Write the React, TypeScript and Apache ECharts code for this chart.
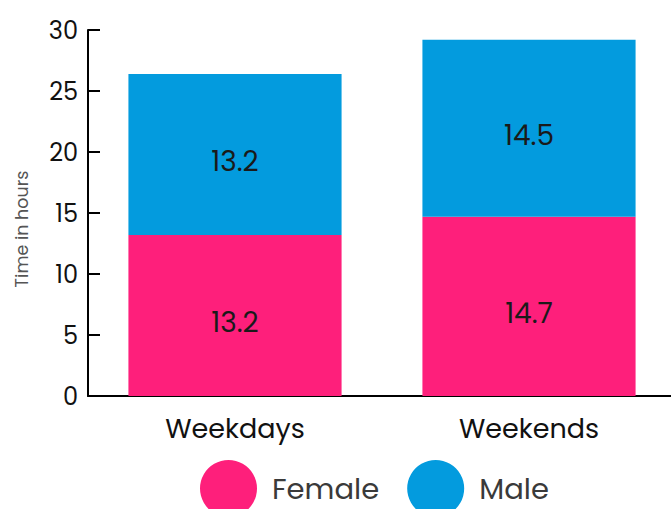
import React, { useEffect, useRef } from "react";
import * as echarts from "echarts";

const categories = ["Weekdays", "Weekends"];
const femaleValues = [13.2, 14.7];
const maleValues = [13.2, 14.5];
const yTicks = { min: 0, max: 30, interval: 5 };
const yAxisTitle = "Time in hours";

const FONT = "Poppins, 'Open Sans', 'Noto Sans', sans-serif";

export default function App() {
  const ref = useRef<HTMLDivElement>(null);
  useEffect(() => {
    if (!ref.current) return;
    const chart = echarts.init(ref.current, undefined, { renderer: "svg" });
    const labelCfg = {
      show: true,
      position: "inside" as const,
      color: "#1a1a1a",
      fontSize: 28,
      offset: [0, 7],
      fontFamily: FONT,
    };
    chart.setOption({
      animation: false,
      textStyle: { fontFamily: FONT },
      grid: { left: 88, right: 4, top: 30, bottom: 113, containLabel: false },
      graphic: [
        {
          type: "text",
          x: 22,
          y: 229,
          rotation: Math.PI / 2,
          style: {
            text: yAxisTitle,
            fontSize: 17.5,
            fill: "#555",
            fontFamily: FONT,
            align: "center",
            verticalAlign: "middle",
          },
        },
      ],
      legend: {
        left: 200,
        top: 460,
        padding: 0,
        icon: "circle",
        itemWidth: 57,
        itemHeight: 57,
        itemGap: 28,
        textStyle: { fontSize: 29, color: "#3a3a3a", fontFamily: FONT, padding: [0, 0, 0, 10] },
        data: ["Female", "Male"],
      },
      xAxis: {
        type: "category",
        data: categories,
        axisLine: { lineStyle: { color: "#000", width: 2 } },
        axisTick: { inside: true, length: 10, lineStyle: { color: "#000", width: 2 } },
        axisLabel: { color: "#111", fontSize: 27, margin: 19, fontFamily: FONT },
      },
      yAxis: {
        type: "value",
        min: yTicks.min,
        max: yTicks.max,
        interval: yTicks.interval,
        splitLine: { show: false },
        axisLine: { show: true, lineStyle: { color: "#000", width: 2 } },
        axisTick: { show: true, inside: true, length: 12, lineStyle: { color: "#000", width: 2 } },
        axisLabel: { color: "#111", fontSize: 24, margin: 10, fontFamily: FONT },
      },
      series: [
        {
          name: "Female",
          type: "bar",
          stack: "total",
          barWidth: "72.5%",
          data: femaleValues,
          itemStyle: { color: "#FE1F7B" },
          label: labelCfg,
        },
        {
          name: "Male",
          type: "bar",
          stack: "total",
          barWidth: "72.5%",
          data: maleValues,
          itemStyle: { color: "#039BDE" },
          label: labelCfg,
        },
      ],
    });
    return () => chart.dispose();
  }, []);
  return (
    <div
      style={{
        position: "absolute",
        left: 0,
        top: 0,
        width: 671,
        height: 509,
        overflow: "hidden",
        background: "#fff",
      }}
    >
      <div ref={ref} style={{ width: 680, height: 509 }} />
    </div>
  );
}
